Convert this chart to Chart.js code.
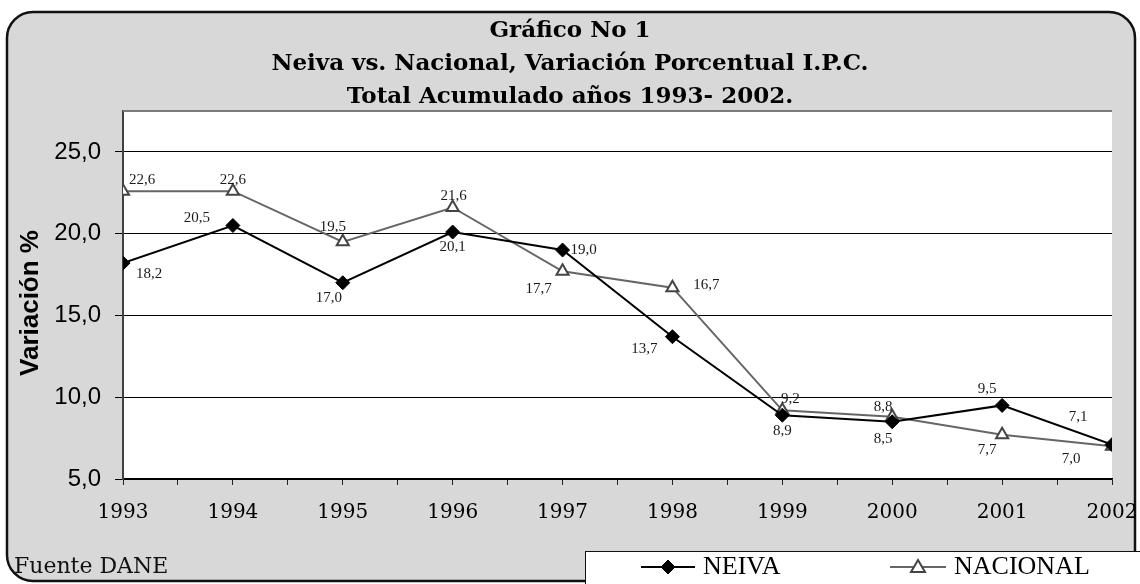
<!DOCTYPE html>
<html>
<head>
<meta charset="utf-8">
<script src="https://cdn.jsdelivr.net/npm/chart.js@4/dist/chart.umd.min.js"></script>
<style>
  html, body { margin: 0; padding: 0; background: #fff; }
  #wrap { width: 1140px; height: 584px; position: relative; }
</style>
</head>
<body>
<div id="wrap"><canvas id="c" width="1140" height="584"></canvas></div>
<script>
// data
const years = [1993, 1994, 1995, 1996, 1997, 1998, 1999, 2000, 2001, 2002];
const neiva = [18.2, 20.5, 17.0, 20.1, 19.0, 13.7, 8.9, 8.5, 9.5, 7.1];
const nacional = [22.6, 22.6, 19.5, 21.6, 17.7, 16.7, 9.2, 8.8, 7.7, 7.0];
const yTicks = [5, 10, 15, 20, 25];

const titleLines = [
	'Gráfico No 1',
	'Neiva vs. Nacional, Variación Porcentual I.P.C.',
	'Total Acumulado años 1993- 2002.'
];

// where each value label sits relative to its point (px)
const neivaLabelOffs = [[26, 11], [-36, -7], [-14, 15], [0, 15], [21, 0], [-28, 12], [0, 16], [-9, 17], [-15, -16], [-34, -28]];
const nacionalLabelOffs = [[19, -11], [0, -11], [-10, -15], [1, -11], [-24, 18], [34, -3], [8, -11], [-9, -10], [-15, 15], [-41, 13]];

let fmt = v => v.toFixed(1).replace('.', ',');

let roundRect = (ctx, x, y, w, h, r) => {
	ctx.beginPath();
	ctx.moveTo(x + r, y);
	ctx.lineTo(x + w - r, y);
	ctx.arcTo(x + w, y, x + w, y + r, r);
	ctx.lineTo(x + w, y + h - r);
	ctx.arcTo(x + w, y + h, x + w - r, y + h, r);
	ctx.lineTo(x + r, y + h);
	ctx.arcTo(x, y + h, x, y + h - r, r);
	ctx.lineTo(x, y + r);
	ctx.arcTo(x, y, x + r, y, r);
	ctx.closePath();
};

let drawMarker = (ctx, style, r, x, y) => {
	if (style === 'rectRot') {
		ctx.moveTo(x, y - r);
		ctx.lineTo(x + r, y);
		ctx.lineTo(x, y + r);
		ctx.lineTo(x - r, y);
	} else {
		ctx.moveTo(x, y - r);
		ctx.lineTo(x + r, y + r * 0.7);
		ctx.lineTo(x - r, y + r * 0.7);
	}
	ctx.closePath();
};

const framePlugin = {
	id: 'frame',
	beforeDraw(chart) {
		const ctx = chart.ctx;
		const a = chart.chartArea;
		ctx.save();
		ctx.fillStyle = '#ffffff';
		ctx.fillRect(0, 0, chart.width, chart.height);
		roundRect(ctx, 7, 12, 1128, 569, 26);
		ctx.fillStyle = '#d8d8d8';
		ctx.fill();
		ctx.lineWidth = 2.5;
		ctx.strokeStyle = '#111';
		ctx.stroke();

		ctx.fillStyle = '#ffffff';
		ctx.fillRect(a.left, a.top, a.right - a.left, a.bottom - a.top);

		ctx.fillStyle = '#000';
		ctx.textAlign = 'center';
		ctx.textBaseline = 'middle';
		ctx.font = 'bold 23px "DejaVu Serif"';
		titleLines.forEach((t, i) => ctx.fillText(t, 570, 31 + i * 33));

		// y axis title
		ctx.save();
		ctx.translate(31, 303);
		ctx.rotate(-Math.PI / 2);
		ctx.font = 'bold 26px "Liberation Sans"';
		ctx.fillText('Variación %', 0, 0);
		ctx.restore();
		ctx.restore();
	},
	afterDraw(chart) {
		const ctx = chart.ctx;
		const a = chart.chartArea;
		ctx.save();
		// top edge of plot
		ctx.strokeStyle = '#7a7a7a';
		ctx.lineWidth = 2;
		ctx.beginPath();
		ctx.moveTo(a.left, a.top);
		ctx.lineTo(a.right, a.top);
		ctx.stroke();

		// legend box
		ctx.fillStyle = '#fff';
		ctx.fillRect(585.5, 551.5, 600, 60);
		ctx.strokeStyle = '#111';
		ctx.lineWidth = 1;
		ctx.strokeRect(585.5, 551.5, 600, 60);

		const items = [
			{ x0: 641, x1: 695, text: 'NEIVA', ds: chart.data.datasets[0] },
			{ x0: 890, x1: 946, text: 'NACIONAL', ds: chart.data.datasets[1] }
		];
		const ly = 567;
		for (let it of items) {
			ctx.strokeStyle = it.ds.borderColor;
			ctx.lineWidth = 2;
			ctx.beginPath();
			ctx.moveTo(it.x0, ly);
			ctx.lineTo(it.x1, ly);
			ctx.stroke();
			ctx.fillStyle = it.ds.pointBackgroundColor;
			ctx.strokeStyle = it.ds.pointBorderColor;
			ctx.lineWidth = it.ds.pointBorderWidth;
			ctx.beginPath();
			drawMarker(ctx, it.ds.pointStyle, it.ds.pointRadius, (it.x0 + it.x1) / 2, ly);
			ctx.fill();
			ctx.stroke();
			ctx.fillStyle = '#000';
			ctx.font = '26px "Liberation Serif"';
			ctx.textAlign = 'left';
			ctx.textBaseline = 'middle';
			ctx.fillText(it.text, it.x1 + 8, ly);
		}

		ctx.fillStyle = '#111';
		ctx.font = '22px "DejaVu Serif"';
		ctx.textAlign = 'left';
		ctx.textBaseline = 'middle';
		ctx.fillText('Fuente DANE', 14, 567);
		ctx.restore();
	}
};

const labelPlugin = {
	id: 'valueLabels',
	afterDatasetsDraw(chart) {
		const ctx = chart.ctx;
		const offs = [neivaLabelOffs, nacionalLabelOffs];
		ctx.save();
		ctx.fillStyle = '#1a1a1a';
		ctx.font = '15px "Liberation Serif"';
		ctx.textAlign = 'center';
		ctx.textBaseline = 'middle';
		chart.data.datasets.forEach((ds, di) => {
			chart.getDatasetMeta(di).data.forEach((pt, i) => {
				ctx.fillText(fmt(ds.data[i].y), pt.x + offs[di][i][0], pt.y + offs[di][i][1]);
			});
		});
		ctx.restore();
	}
};

new Chart(document.getElementById('c'), {
	type: 'line',
	data: {
		datasets: [{
			label: 'NEIVA',
			data: years.map((y, i) => ({ x: y, y: neiva[i] })),
			borderColor: '#000',
			borderWidth: 2,
			pointStyle: 'rectRot',
			pointRadius: 7,
			pointBackgroundColor: '#000',
			pointBorderColor: '#000',
			pointBorderWidth: 1,
			tension: 0
		}, {
			label: 'NACIONAL',
			data: years.map((y, i) => ({ x: y, y: nacional[i] })),
			borderColor: '#666',
			borderWidth: 2,
			pointStyle: 'triangle',
			pointRadius: 7,
			pointBackgroundColor: '#fff',
			pointBorderColor: '#444',
			pointBorderWidth: 2,
			tension: 0
		}]
	},
	options: {
		responsive: false,
		animation: false,
		layout: { padding: { left: 0, top: 111, right: 28, bottom: 0 } },
		plugins: { legend: { display: false }, title: { display: false }, tooltip: { enabled: false } },
		scales: {
			x: {
				type: 'linear',
				min: years[0],
				max: years[years.length - 1],
				afterFit: s => { s.height = 105; s.paddingLeft = 0; s.paddingRight = 0; },
				afterBuildTicks: s => {
					let t = [];
					for (let i = 0; i < years.length; i++) {
						t.push({ value: years[i] });
						if (i < years.length - 1) t.push({ value: years[i] + 0.5 });
					}
					s.ticks = t;
				},
				ticks: {
					autoSkip: false,
					maxRotation: 0,
					padding: 16,
					color: '#000',
					font: { family: 'DejaVu Serif', size: 20 },
					callback: v => (years.includes(v) ? String(v) : '')
				},
				grid: { drawOnChartArea: false, tickLength: 6, color: '#222' },
				border: { color: '#000', width: 1.5 }
			},
			y: {
				min: 5,
				max: 27.5,
				afterFit: s => { s.width = 123; },
				afterBuildTicks: s => { s.ticks = yTicks.map(v => ({ value: v })); },
				ticks: {
					padding: 14,
					color: '#000',
					font: { family: 'Liberation Sans', size: 24 },
					callback: v => fmt(v)
				},
				grid: { color: '#000', lineWidth: 1, tickLength: 8 },
				border: { color: '#404040', width: 2 }
			}
		}
	},
	plugins: [framePlugin, labelPlugin]
});
</script>
</body>
</html>
